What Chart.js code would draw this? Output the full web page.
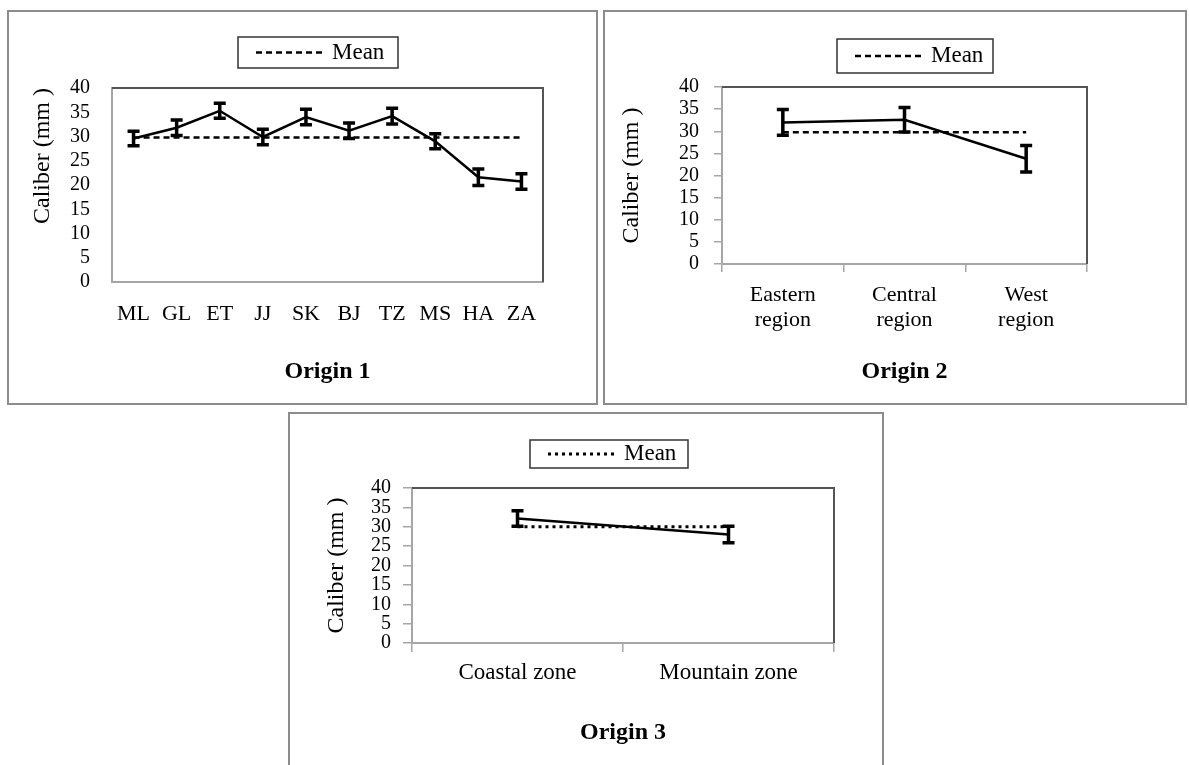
<!DOCTYPE html>
<html>
<head>
<meta charset="utf-8">
<title>Caliber by origin</title>
<script src="https://cdn.jsdelivr.net/npm/chart.js@4.4.1/dist/chart.umd.min.js"></script>
<style>
  html, body { margin: 0; padding: 0; background: #fff; overflow: hidden; }
  body { width: 1189px; height: 765px; position: relative; }
  .frame { position: absolute; border: 2px solid #8c8c8c; box-sizing: border-box; }
  .frame canvas { position: absolute; left: 0; top: 0; }
</style>
</head>
<body>
<div class="frame" style="left:7px;top:10px;width:591px;height:395px"><canvas id="origin1" width="587" height="391"></canvas></div>
<div class="frame" style="left:603px;top:10px;width:584px;height:395px"><canvas id="origin2" width="580" height="391"></canvas></div>
<div class="frame" style="left:288px;top:412px;width:596px;height:370px"><canvas id="origin3" width="592" height="366"></canvas></div>

<script>
// ----- data -----
const yTitle = 'Caliber (mm )';

const origin1Labels = ['ML', 'GL', 'ET', 'JJ', 'SK', 'BJ', 'TZ', 'MS', 'HA', 'ZA'];
const origin1Caliber = [29.6, 31.8, 35.3, 29.9, 34.0, 31.2, 34.2, 29.0, 21.6, 20.7];
const origin1Error = [1.5, 1.6, 1.55, 1.6, 1.6, 1.6, 1.6, 1.55, 1.7, 1.6];
const origin1Mean = [29.8, 29.8, 29.8, 29.8, 29.8, 29.8, 29.8, 29.8, 29.8, 29.8];

const origin2Labels = [['Eastern', 'region'], ['Central', 'region'], ['West', 'region']];
const origin2Caliber = [32.0, 32.6, 23.8];
const origin2Error = [2.9, 2.75, 3.0];
const origin2Mean = [29.75, 29.75, 29.75];

const origin3Labels = ['Coastal zone', 'Mountain zone'];
const origin3Caliber = [32.1, 28.0];
const origin3Error = [2.0, 2.1];
const origin3Mean = [30.0, 30.0];

Chart.defaults.font.family = '"Liberation Serif", "Times New Roman", serif';
Chart.defaults.color = '#000';

// top and right edges of the plot box
const plotFrame = {
  id: 'plotFrame',
  beforeDatasetsDraw(chart) {
    const { ctx, chartArea: a } = chart;
    ctx.save();
    ctx.strokeStyle = '#555';
    ctx.lineWidth = 2;
    ctx.beginPath();
    ctx.moveTo(a.left, a.top);
    ctx.lineTo(a.right, a.top);
    ctx.lineTo(a.right, a.bottom);
    ctx.stroke();
    ctx.restore();
  }
};

// I-shaped error bars from dataset.errors
const errorBars = {
  id: 'errorBars',
  afterDatasetsDraw(chart, args, opts) {
    const { ctx } = chart;
    const y = chart.scales.y;
    chart.data.datasets.forEach((ds, di) => {
      if (!ds.errors) return;
      const meta = chart.getDatasetMeta(di);
      ctx.save();
      ctx.strokeStyle = '#000';
      ctx.lineWidth = 3.5;
      meta.data.forEach((pt, i) => {
        const hi = y.getPixelForValue(ds.data[i] + ds.errors[i]);
        const lo = y.getPixelForValue(ds.data[i] - ds.errors[i]);
        ctx.beginPath();
        ctx.moveTo(pt.x, hi); ctx.lineTo(pt.x, lo);
        ctx.moveTo(pt.x - opts.cap, hi); ctx.lineTo(pt.x + opts.cap, hi);
        ctx.moveTo(pt.x - opts.cap, lo); ctx.lineTo(pt.x + opts.cap, lo);
        ctx.stroke();
      });
      ctx.restore();
    });
  }
};

// boxed legend showing only the Mean series
const meanLegend = {
  id: 'meanLegend',
  afterDraw(chart, args, opts) {
    const ds = chart.data.datasets[1];
    const { ctx } = chart;
    const [l, t, w, h] = opts.box;
    const cy = t + h / 2;
    ctx.save();
    ctx.strokeStyle = '#333';
    ctx.lineWidth = 1.5;
    ctx.strokeRect(l, t, w, h);
    ctx.strokeStyle = '#000';
    ctx.lineWidth = ds.borderWidth;
    ctx.setLineDash(ds.borderDash);
    ctx.beginPath();
    ctx.moveTo(l + 18, cy);
    ctx.lineTo(l + 86, cy);
    ctx.stroke();
    ctx.setLineDash([]);
    ctx.fillStyle = '#000';
    ctx.font = '23px "Liberation Serif"';
    ctx.textBaseline = 'middle';
    ctx.fillText(ds.label, l + 94, cy);
    ctx.restore();
  }
};

function makePanel(id, c) {
  const axisGrid = c.tickLen
    ? { display: true, drawOnChartArea: false, drawTicks: true, tickLength: c.tickLen, color: '#a6a6a6', lineWidth: 1.5 }
    : { display: false, drawTicks: false };
  return new Chart(document.getElementById(id), {
    type: 'line',
    data: {
      labels: c.labels,
      datasets: [
        { label: 'Caliber', data: c.values, errors: c.errors, borderColor: '#000', borderWidth: 2.5,
          pointRadius: 0, tension: 0, order: 1 },
        { label: 'Mean', data: c.mean, borderColor: '#000', borderWidth: c.meanWidth, borderDash: c.dash,
          pointRadius: 0, tension: 0, order: 2 }
      ]
    },
    options: {
      responsive: false,
      animation: false,
      devicePixelRatio: 1,
      layout: { padding: c.padding },
      plugins: {
        legend: { display: false },
        tooltip: { enabled: false },
        title: {
          display: true, text: c.caption, position: 'bottom', fullSize: false,
          font: { size: 24, weight: 'bold' }, padding: { top: c.captionPad, bottom: 0 }
        },
        meanLegend: { box: c.legendBox },
        errorBars: { cap: 6 }
      },
      scales: {
        x: {
          offset: true,
          grid: Object.assign({ offset: true }, axisGrid),
          border: { display: true, color: '#a6a6a6', width: 2 },
          ticks: { autoSkip: false, maxRotation: 0, padding: c.xPad,
                   font: { size: c.xFont, lineHeight: c.xLine } },
          afterFit(s) { s.height = c.xAxisHeight; }
        },
        y: {
          min: 0, max: 40,
          grid: axisGrid,
          border: { display: true, color: '#a6a6a6', width: 2 },
          ticks: { stepSize: 5, autoSkip: false, padding: c.yPad, font: { size: 20, lineHeight: 1 } },
          title: { display: true, text: yTitle, align: c.titleAlign, font: { size: 24 },
                   padding: { top: c.titlePad, bottom: 0 } },
          afterFit(s) { s.width = c.yAxisWidth; }
        }
      }
    },
    plugins: [plotFrame, errorBars, meanLegend]
  });
}

makePanel('origin1', {
  labels: origin1Labels, values: origin1Caliber, errors: origin1Error, mean: origin1Mean,
  dash: [6, 4], meanWidth: 2.5, caption: 'Origin 1',
  padding: { left: 0, top: 76, right: 53, bottom: 16.6 },
  yAxisWidth: 103, xAxisHeight: 50, tickLen: 0,
  yPad: 22, xPad: 19, xFont: 22, xLine: 1.2,
  titleAlign: 'end', titlePad: 19, captionPad: 25.6,
  legendBox: [229, 25, 160, 31]
});

makePanel('origin2', {
  labels: origin2Labels, values: origin2Caliber, errors: origin2Error, mean: origin2Mean,
  dash: [6, 4], meanWidth: 2.5, caption: 'Origin 2',
  padding: { left: 0, top: 75, right: 98, bottom: 16.6 },
  yAxisWidth: 117, xAxisHeight: 80, tickLen: 8,
  yPad: 15, xPad: 10.5, xFont: 22, xLine: 1.14,
  titleAlign: 'center', titlePad: 12.6, captionPad: 13.6,
  legendBox: [232, 27, 156, 34]
});

makePanel('origin3', {
  labels: origin3Labels, values: origin3Caliber, errors: origin3Error, mean: origin3Mean,
  dash: [3, 4], meanWidth: 3, caption: 'Origin 3',
  padding: { left: 0, top: 74, right: 48, bottom: 32.6 },
  yAxisWidth: 122, xAxisHeight: 60, tickLen: 9,
  yPad: 12, xPad: 7, xFont: 23, xLine: 1.2,
  titleAlign: 'center', titlePad: 32.6, captionPad: 15.6,
  legendBox: [240, 26, 158, 28]
});
</script>
</body>
</html>
